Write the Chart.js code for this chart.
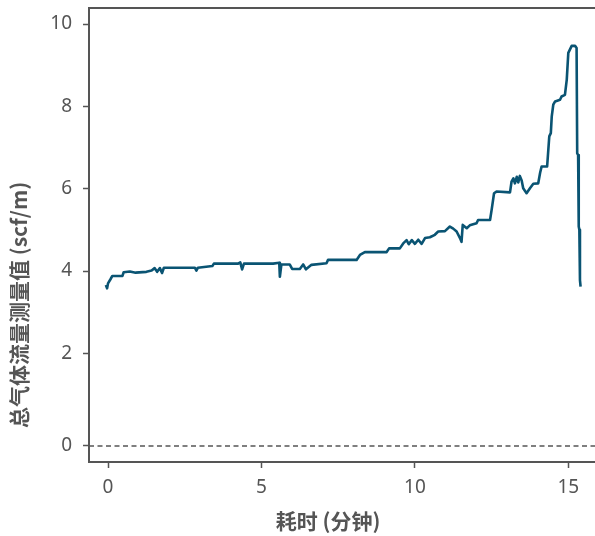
<!DOCTYPE html>
<html>
<head>
<meta charset="utf-8">
<script src="https://cdn.jsdelivr.net/npm/chart.js@4.4.0/dist/chart.umd.min.js"></script>
<style>
  html, body { margin: 0; padding: 0; background: #fff; }
  canvas { display: block; }
</style>
</head>
<body>
<canvas id="flowChart" width="595" height="536"></canvas>
<script>
/* ═══════════════════════════════════════════
   DATA
═══════════════════════════════════════════ */
const elapsedMin = [
  -0.07, -0.03, 0.00, 0.08, 0.14, 0.47, 0.51, 0.71, 0.90, 1.25, 1.42, 1.52, 1.60, 1.69, 1.76, 1.82,
  2.83, 2.88, 2.93, 3.40, 3.45, 4.24, 4.31, 4.37, 4.43, 5.38, 5.58, 5.60, 5.65, 5.92, 6.00, 6.25,
  6.36, 6.45, 6.63, 7.12, 7.17, 8.10, 8.21, 8.37, 9.08, 9.16, 9.51, 9.62, 9.73, 9.80, 9.90, 10.00,
  10.11, 10.22, 10.33, 10.49, 10.65, 10.76, 10.98, 11.14, 11.25, 11.36, 11.47, 11.52, 11.56, 11.69,
  11.79, 12.01, 12.06, 12.45, 12.50, 12.58, 12.66, 13.10, 13.15, 13.21, 13.26, 13.32, 13.37, 13.42,
  13.48, 13.53, 13.64, 13.75, 13.86, 14.02, 14.08, 14.13, 14.31, 14.38, 14.43, 14.46, 14.51, 14.57,
  14.73, 14.78, 14.89, 14.95, 15.00, 15.11, 15.22, 15.27, 15.29, 15.32, 15.34, 15.36, 15.38, 15.40
];
const flowScfm = [
  3.66, 3.58, 3.70, 3.80, 3.88, 3.88, 3.97, 3.99, 3.96, 3.98, 4.01, 4.07, 3.98, 4.07, 3.95, 4.08,
  4.08, 4.01, 4.08, 4.12, 4.18, 4.18, 4.21, 4.04, 4.18, 4.18, 4.20, 3.86, 4.16, 4.16, 4.05, 4.05,
  4.16, 4.04, 4.15, 4.19, 4.27, 4.27, 4.39, 4.46, 4.46, 4.55, 4.55, 4.67, 4.75, 4.65, 4.75, 4.66,
  4.76, 4.66, 4.80, 4.82, 4.88, 4.96, 4.97, 5.08, 5.03, 4.96, 4.80, 4.71, 5.12, 5.04,
  5.11, 5.16, 5.24, 5.24, 5.48, 5.89, 5.93, 5.91, 6.17, 6.25, 6.13, 6.29, 6.15, 6.31,
  6.20, 6.01, 5.89, 6.01, 6.12, 6.13, 6.38, 6.54, 6.54, 7.27, 7.35, 7.75, 8.04, 8.12,
  8.16, 8.24, 8.28, 8.65, 9.30, 9.47, 9.47, 9.42, 6.86, 6.82, 5.08, 5.00, 3.78, 3.62
];

const xTickValues = [0, 5, 10, 15];
// the "0" tick and dashed reference sit a little below the linear spot in the source
const yTickValues = [-0.25, 2, 4, 6, 8, 10];
const yTickLabels = ['0', '2', '4', '6', '8', '10'];
const zeroLineY = -0.25;

const xTitle = '耗时 (分钟)';
const yTitle = '总气体流量测量值 (scf/m)';

/* ═══════════════════════════════════════════
   STYLE
═══════════════════════════════════════════ */
const AXIS = '#555555';
const LINE = '#0a5473';
const TICK_FONT = { family: "'Noto Sans', 'Open Sans', sans-serif", size: 19 };
const TITLE_FONT = "bold 21px 'Noto Sans CJK SC', 'Noto Sans', sans-serif";

const X_MIN = -0.62, X_MAX = 15.87;
const Y_MIN = -0.64, Y_MAX = 10.39;

/* ═══════════════════════════════════════════
   PLUGIN: top spine + axis titles
═══════════════════════════════════════════ */
const frameAndTitles = {
  id: 'frameAndTitles',
  afterDraw(chart) {
    const { ctx, chartArea: a } = chart;
    ctx.save();
    ctx.strokeStyle = AXIS;
    ctx.lineWidth = 2;
    ctx.beginPath();
    ctx.moveTo(a.left - 1, a.top);
    ctx.lineTo(a.right, a.top);
    ctx.stroke();

    ctx.fillStyle = AXIS;
    ctx.font = TITLE_FONT;
    ctx.textAlign = 'center';
    ctx.textBaseline = 'middle';
    ctx.fillText(xTitle, 328, 521);

    ctx.translate(19, 305);
    ctx.rotate(-Math.PI / 2);
    ctx.fillText(yTitle, 0, 0);
    ctx.restore();
  }
};

/* ═══════════════════════════════════════════
   CHART
═══════════════════════════════════════════ */
const flowPoints = elapsedMin.map((x, k) => ({ x, y: flowScfm[k] }));
const zeroLine = [{ x: X_MIN, y: zeroLineY }, { x: X_MAX, y: zeroLineY }];

new Chart(document.getElementById('flowChart').getContext('2d'), {
  type: 'line',
  data: {
    datasets: [
      {
        label: 'zero',
        data: zeroLine,
        borderColor: AXIS,
        borderWidth: 1.5,
        borderDash: [5, 3.5],
        pointRadius: 0,
        fill: false
      },
      {
        label: 'flow',
        data: flowPoints,
        borderColor: LINE,
        borderWidth: 2.6,
        borderJoinStyle: 'round',
        pointRadius: 0,
        fill: false,
        tension: 0
      }
    ]
  },
  options: {
    responsive: false,
    devicePixelRatio: 1,
    animation: false,
    layout: { padding: { left: 0, right: 0, top: 8, bottom: 0 } },
    plugins: { legend: { display: false }, tooltip: { enabled: false } },
    scales: {
      x: {
        type: 'linear',
        min: X_MIN, max: X_MAX,
        afterBuildTicks: s => { s.ticks = xTickValues.map(v => ({ value: v })); },
        afterFit: s => { s.height = 74; s.paddingLeft = 0; s.paddingRight = 0; },
        grid: { drawOnChartArea: false, drawTicks: true, tickLength: 6, tickColor: AXIS, tickWidth: 1.5 },
        border: { display: true, color: AXIS, width: 2 },
        ticks: { color: AXIS, font: TICK_FONT, padding: 8, maxRotation: 0, callback: v => String(v) }
      },
      y: {
        type: 'linear',
        min: Y_MIN, max: Y_MAX,
        afterBuildTicks: s => { s.ticks = yTickValues.map(v => ({ value: v })); },
        afterFit: s => { s.width = 89; s.paddingTop = 0; s.paddingBottom = 0; },
        grid: { drawOnChartArea: false, drawTicks: true, tickLength: 6, tickColor: AXIS, tickWidth: 1.5 },
        border: { display: true, color: AXIS, width: 2 },
        ticks: { color: AXIS, font: TICK_FONT, padding: 11, callback: (v, i) => yTickLabels[i] }
      }
    }
  },
  plugins: [frameAndTitles]
});
</script>
</body>
</html>
